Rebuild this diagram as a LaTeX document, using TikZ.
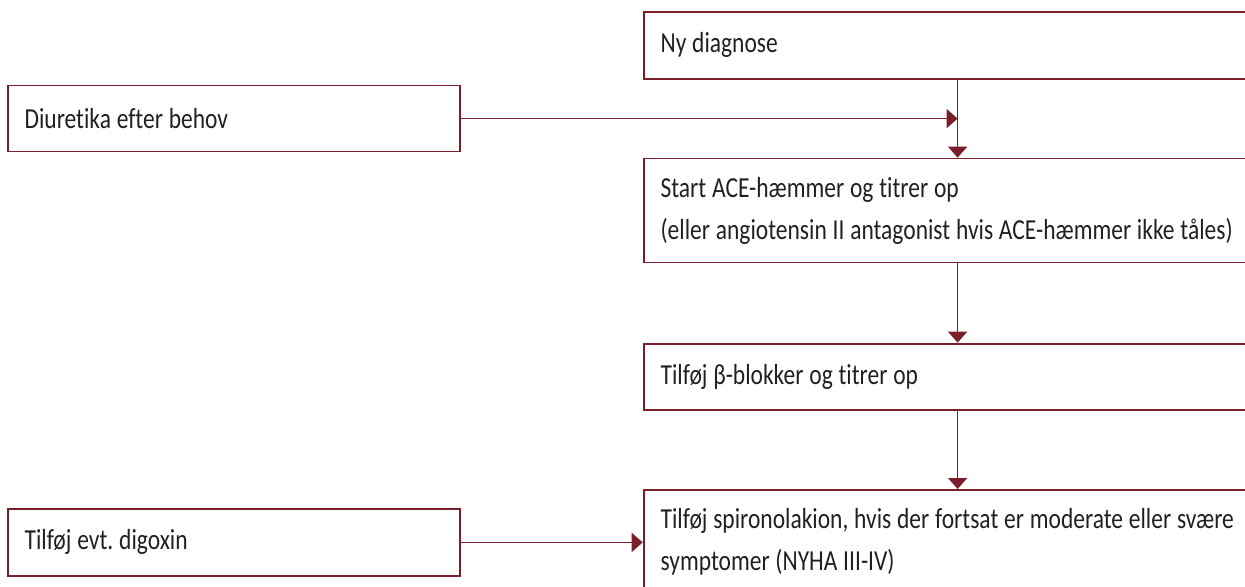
\documentclass[tikz,border=0pt]{standalone}
\usepackage{fontspec}
\setmainfont[FakeStretch=0.81, Ligatures=NoCommon]{Carlito}
\usetikzlibrary{arrows.meta, positioning}
\definecolor{cwine}{HTML}{7A1F2A}
\definecolor{ctext}{HTML}{231F20}
\newcommand\boxfont{\fontsize{14.5}{21}\selectfont}
\newcommand\tightspaces{\frenchspacing\spaceskip=2.9pt plus 1pt minus 0.5pt\xspaceskip=2.9pt plus 1pt\relax}
\tikzset{
  every picture/.style={line width=0.9pt},
  box/.style={draw=cwine, rectangle, anchor=north west, align=left, text width=#1, inner xsep=8.5pt, inner ysep=0pt, text=ctext, font=\boxfont, execute at begin node=\tightspaces},
  box/.default=297pt,
  arrow/.style={-{Triangle[length=5.5pt, width=9.5pt]}, draw=cwine, line width=0.8pt},
}

\begin{document}
\begin{tikzpicture}[x=0.5pt, y=-0.5pt]
  \useasboundingbox (0,0) rectangle (1245,587);
  \clip (0,0) rectangle (1245,587);
  % right column
  \node[box, minimum height=33.4pt] (nydiag) at (642.7,11) {Ny diagnose};
  \node[box, minimum height=52pt] (ace) at (642.7,157.7) {Start ACE-hæmmer og titrer op\\(eller angiotensin II antagonist hvis ACE-hæmmer ikke tåles)};
  \node[box, minimum height=33.2pt] (beta) at (642.7,342.7) {Tilføj β-blokker og titrer op};
  \node[box, minimum height=52pt] (spiro) at (642.7,489) {Tilføj spironolakion, hvis der fortsat er moderate eller svære\\symptomer (NYHA III-IV)};
  % left column
  \node[box=209.3pt, minimum height=33pt] (diur) at (6.7,84.7) {Diuretika efter behov};
  \node[box=209.3pt, minimum height=33.5pt] (digox) at (6.7,508) {Tilføj evt. digoxin};
  % connectors
  \draw[arrow] (nydiag.south) -- (ace.north);
  \draw[arrow] (diur.east) -- (diur.east -| nydiag.south);
  \draw[arrow] (ace.south) -- (beta.north);
  \draw[arrow] (beta.south) -- (spiro.north);
  \draw[arrow] (digox.east) -- (digox.east -| spiro.west);
\end{tikzpicture}
\end{document}
